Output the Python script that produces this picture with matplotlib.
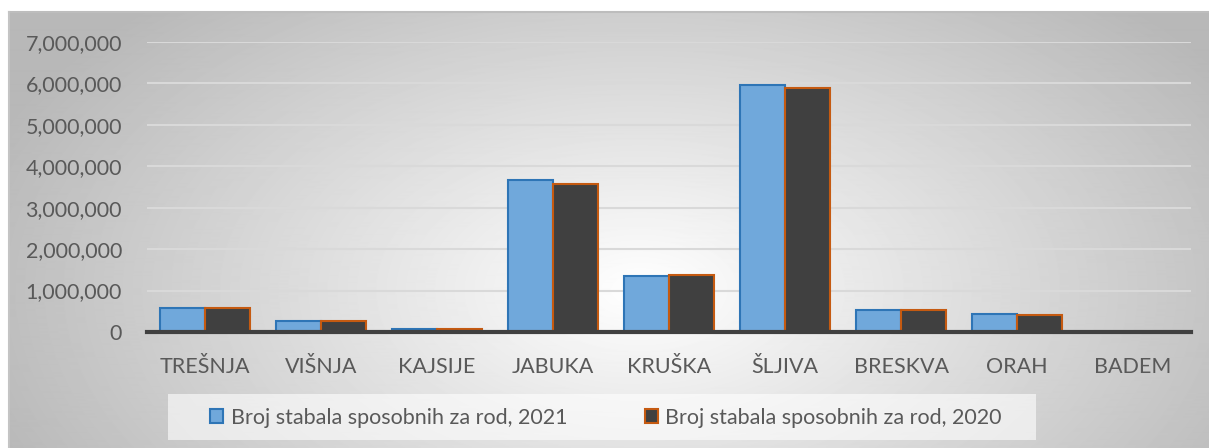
import numpy as np
import matplotlib.pyplot as plt
from matplotlib.patches import Rectangle
from matplotlib.ticker import FuncFormatter
from matplotlib.lines import Line2D

plt.rcParams['font.family'] = ['Lato', 'DejaVu Sans']

categories = ["TREŠNJA", "VIŠNJA", "KAJSIJE", "JABUKA", "KRUŠKA", "ŠLJIVA", "BRESKVA", "ORAH", "BADEM"]
trees_2021 = [580000, 270000, 75000, 3670000, 1360000, 5960000, 530000, 430000, 5000]
trees_2020 = [570000, 265000, 65000, 3580000, 1380000, 5880000, 520000, 400000, 4000]
label_2021 = "Broj stabala sposobnih za rod, 2021"
label_2020 = "Broj stabala sposobnih za rod, 2020"

W, H = 1209, 448
fig = plt.figure(figsize=(W / 100, H / 100), dpi=100)

# radial grey background of the chart area
bg = fig.add_axes([9 / W, 0, (W - 9) / W, (H - 12) / H])
xx, yy = np.meshgrid(np.arange(9, W), np.arange(12, H))
d = np.sqrt(((xx - 640) / 700.0) ** 2 + ((yy - 290) / 400.0) ** 2)
shade = 1.0 - 0.28 * np.clip(d, 0, 1) ** 1.0
bg.imshow(shade, cmap='gray', vmin=0, vmax=1, aspect='auto', interpolation='bilinear')
bg.axis('off')
fig.add_artist(Line2D([9 / W, 1], [(H - 12) / H] * 2, color='#bdbdbd', lw=1.5))
fig.add_artist(Line2D([9 / W] * 2, [0, (H - 12) / H], color='#c4c4c4', lw=1.5))

ax = fig.add_axes([147 / W, (H - 332) / H, (1191 - 147) / W, 290 / H])
ax.set_facecolor('none')
x = np.arange(len(categories))
w = 0.384
ax.bar(x - w / 2, trees_2021, w, color='#70a8db', edgecolor='#2e75b6', linewidth=1.5, zorder=3)
ax.bar(x + w / 2, trees_2020, w, color='#404040', edgecolor='#c55a11', linewidth=1.5, zorder=3)

ax.set_xlim(-0.5, len(categories) - 0.5)
ax.set_ylim(0, 7000000)
ax.set_yticks(np.arange(0, 7000001, 1000000))
ax.yaxis.set_major_formatter(FuncFormatter(lambda v, p: f"{int(v):,}"))
ax.set_xticks(x)
ax.set_xticklabels(categories)
ax.grid(axis='y', color='#d9d9d9', linewidth=1.5, zorder=0)
for s in ['top', 'right', 'left']:
    ax.spines[s].set_visible(False)
ax.spines['bottom'].set_color('#404040')
ax.spines['bottom'].set_linewidth(3)
ax.spines['bottom'].set_zorder(4)
ax.tick_params(axis='both', length=0, labelsize=15.5, labelcolor='#595959')
ax.tick_params(axis='y', pad=18)
ax.tick_params(axis='x', pad=18)

# legend box
fig.add_artist(Rectangle((168 / W, 8 / H), (1036 - 168) / W, 46 / H, transform=fig.transFigure,
                         facecolor='white', alpha=0.6, edgecolor='none'))
handles = [Rectangle((0, 0), 1, 1, facecolor='#70a8db', edgecolor='#2e75b6', linewidth=1.5),
           Rectangle((0, 0), 1, 1, facecolor='#404040', edgecolor='#c55a11', linewidth=1.5)]
leg = fig.legend(handles, [label_2021, label_2020], loc='center', bbox_to_anchor=(606 / W, 30 / H),
                 ncol=2, frameon=False, fontsize=15.5, handlelength=0.62, handleheight=0.62,
                 handletextpad=0.34, columnspacing=3.6)
for t in leg.get_texts():
    t.set_color('#595959')

fig.savefig("out.png", dpi=100)
